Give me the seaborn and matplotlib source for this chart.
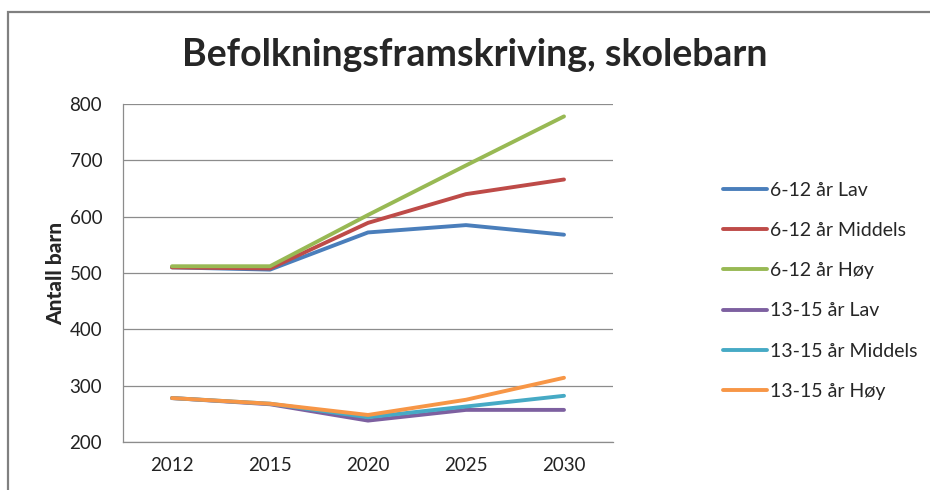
import numpy as np
import pandas as pd
import matplotlib
matplotlib.use('Agg')
import matplotlib.pyplot as plt
import seaborn as sns
from matplotlib.patches import Rectangle

# Data
years = ['2012', '2015', '2020', '2025', '2030']
series_names = ['6-12 år Lav', '6-12 år Middels', '6-12 år Høy',
                '13-15 år Lav', '13-15 år Middels', '13-15 år Høy']
lav_6_12 = [510, 506, 572, 585, 568]
middels_6_12 = [510, 508, 589, 640, 666]
hoy_6_12 = [512, 512, 603, 691, 778]
lav_13_15 = [278, 267, 238, 257, 257]
middels_13_15 = [278, 268, 244, 263, 282]
hoy_13_15 = [278, 268, 248, 275, 314]
colors = ['#4A7EBB', '#BE4B48', '#98B954', '#7D60A0', '#46AAC5', '#F79646']

all_values = [lav_6_12, middels_6_12, hoy_6_12, lav_13_15, middels_13_15, hoy_13_15]
rows = []
for name, vals in zip(series_names, all_values):
    for yr, v in zip(years, vals):
        rows.append({'År': yr, 'Serie': name, 'Antall barn': v})
df = pd.DataFrame(rows)

sns.set_theme(style='white')
plt.rcParams['font.family'] = ['Lato', 'DejaVu Sans']

fig = plt.figure(figsize=(9.3, 4.9), dpi=100)
ax = fig.add_axes([123 / 930, 1 - 442 / 490, 490 / 930, 338 / 490])

sns.lineplot(data=df, x='År', y='Antall barn', hue='Serie', hue_order=series_names,
             palette=colors, linewidth=2.8, ax=ax, sort=False)

ax.set_xlim(-0.5, 4.5)
ax.set_ylim(200, 800)
ax.set_yticks(range(200, 801, 100))
ax.grid(axis='y', color='#8C8C8C', linewidth=0.9)
ax.grid(axis='x', visible=False)
for side in ['top', 'right']:
    ax.spines[side].set_visible(False)
for side in ['left', 'bottom']:
    ax.spines[side].set_color('#8C8C8C')
    ax.spines[side].set_linewidth(0.9)
ax.tick_params(axis='both', length=0, labelsize=13.5, colors='#222222')
ax.tick_params(axis='y', pad=15)
ax.tick_params(axis='x', pad=11)
ax.set_xlabel('')
ax.set_ylabel('Antall barn', fontsize=15, fontweight='black', labelpad=3)

fig.suptitle('Befolkningsframskriving, skolebarn', x=475 / 930, y=1 - 55 / 490,
             va='center', fontsize=27, fontweight='bold')

handles, labels = ax.get_legend_handles_labels()
ax.legend(handles, labels, loc='upper left', bbox_to_anchor=(705 / 930, 1 - 164 / 490),
          bbox_transform=fig.transFigure, frameon=False, fontsize=14,
          handlelength=2.3, handletextpad=0.15, labelspacing=1.2)

# outer chart frame, cropped at right and bottom
fig.patches.append(Rectangle((8 / 930, -0.2), 1.5, 1.2 - 12 / 490, transform=fig.transFigure,
                             fill=False, edgecolor='#808080', linewidth=1.6))

fig.savefig('out.png', dpi=100)
